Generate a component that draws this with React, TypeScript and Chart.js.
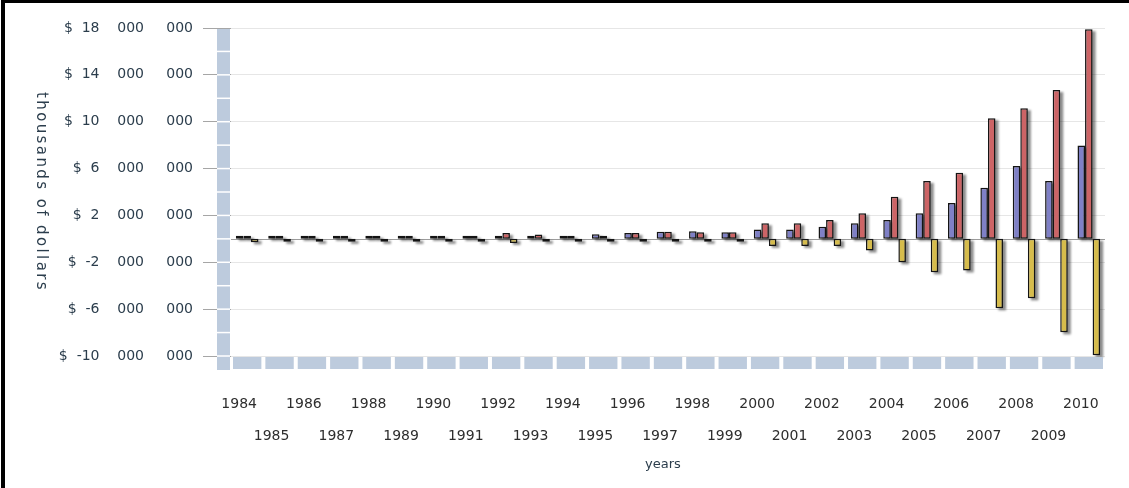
import React, { useEffect, useRef } from 'react';
import { Chart, registerables } from 'chart.js';

Chart.register(...registerables);

const years = [
  '1984', '1985', '1986', '1987', '1988', '1989', '1990', '1991', '1992', '1993',
  '1994', '1995', '1996', '1997', '1998', '1999', '2000', '2001', '2002', '2003',
  '2004', '2005', '2006', '2007', '2008', '2009', '2010',
];

// thousands of dollars
const blueSeries = [
  100000, 80000, 80000, 50000, 80000, 80000, 20000, 20000, 100000, 100000,
  250000, 400000, 500000, 600000, 650000, 560000, 790000, 790000, 1040000, 1330000,
  1610000, 2180000, 3070000, 4370000, 6220000, 4940000, 7960000,
];

const redSeries = [
  150000, 100000, 100000, 50000, 100000, 100000, 20000, 20000, 500000, 380000,
  250000, 120000, 500000, 600000, 560000, 560000, 1330000, 1330000, 1610000, 2180000,
  3600000, 4940000, 5650000, 10300000, 11150000, 12700000, 17900000,
];

const yellowSeries = [
  -300000, -150000, -150000, -150000, -150000, -150000, -20000, -20000, -350000, -180000,
  -120000, -100000, -60000, -100000, -100000, -100000, -600000, -600000, -600000, -1000000,
  -2000000, -2850000, -2700000, -5930000, -5080000, -7980000, -9940000,
];

const yMin = -10000000;
const yMax = 18000000;
const yStep = 4000000;

const yTitle = 'thousands of dollars';
const xTitle = 'years';

const BAND = '#bdcbdd';
const TEXT = '#2b3d4c';

function fmt(v: number): string {
  const s = Math.abs(Math.round(v)).toString();
  const groups: string[] = [];
  for (let i = s.length; i > 0; i -= 3) groups.unshift(s.slice(Math.max(0, i - 3), i));
  let out = '$  ' + (v < 0 ? '-' : '') + groups[0];
  for (let i = 1; i < groups.length; i++) out += (i === 1 ? '    ' : '     ') + groups[i];
  return out;
}

const decor = {
  id: 'decor',
  beforeDatasetsDraw(chart: any) {
    const { ctx, chartArea: a, scales } = chart;
    const y = scales.y;
    const y0 = Math.round(y.getPixelForValue(0)) + 0.5;
    ctx.save();
    ctx.strokeStyle = '#9c9c9c';
    ctx.lineWidth = 1;
    ctx.beginPath();
    ctx.moveTo(a.left, y0);
    ctx.lineTo(a.right, y0);
    ctx.stroke();
    // drop shadows under bars
    ctx.fillStyle = 'rgba(0,0,0,0.45)';
    ctx.filter = 'blur(1.2px)';
    chart.data.datasets.forEach((_ds: any, i: number) => {
      const meta = chart.getDatasetMeta(i);
      meta.data.forEach((el: any) => {
        const p = el.getProps(['x', 'y', 'base', 'width'], true);
        const top = Math.min(p.y, p.base);
        const bottom = Math.max(p.y, p.base);
        ctx.fillRect(p.x - p.width / 2 + 3, top + 2, p.width, bottom - top);
      });
    });
    ctx.restore();
  },
  afterDraw(chart: any) {
    const { ctx, chartArea: a, scales } = chart;
    const x = scales.x;
    const y = scales.y;
    ctx.save();
    // left wall band
    const bx = a.left - 14;
    const bw = 13;
    ctx.fillStyle = BAND;
    ctx.fillRect(bx, a.top + 1, bw, a.bottom - a.top + 13);
    ctx.fillStyle = '#ffffff';
    const ticks = y.ticks.map((t: any) => t.value);
    const divs: number[] = [];
    for (let i = 0; i < ticks.length; i++) {
      divs.push(ticks[i]);
      if (i + 1 < ticks.length) divs.push((ticks[i] + ticks[i + 1]) / 2);
    }
    divs.forEach((v) => {
      if (v === yMax) return;
      const py = y.getPixelForValue(v);
      ctx.fillRect(bx, py - 0.75, bw, 1.5);
    });
    // floor band
    ctx.fillStyle = BAND;
    const cw = (a.right - a.left) / years.length;
    years.forEach((_l, i) => {
      const cx = x.getPixelForValue(i);
      ctx.fillRect(cx - cw / 2 + 2, a.bottom + 1, cw - 4, 12);
    });
    // axis titles
    ctx.fillStyle = TEXT;
    ctx.font = '15px "DejaVu Sans"';
    ctx.textAlign = 'center';
    ctx.textBaseline = 'middle';
    ctx.save();
    ctx.translate(41, (a.top + a.bottom) / 2);
    ctx.rotate(Math.PI / 2);
    (ctx as any).letterSpacing = '2.4px';
    ctx.fillText(yTitle, 0, 0);
    ctx.restore();
    ctx.font = '13px "DejaVu Sans"';
    ctx.fillText(xTitle, (a.left + a.right) / 2 - 5, 465);
    ctx.restore();
  },
};

export default function App() {
  const ref = useRef<HTMLCanvasElement | null>(null);

  useEffect(() => {
    if (!ref.current) return;
    const chart = new Chart(ref.current, {
      type: 'bar',
      data: {
        labels: years,
        datasets: [
          { data: blueSeries, backgroundColor: '#7f80c6' },
          { data: redSeries, backgroundColor: '#cc6466' },
          { data: yellowSeries, backgroundColor: '#d6bc4c' },
        ].map((d) => ({
          ...d,
          borderColor: '#141414',
          borderWidth: 1.5,
          borderSkipped: false,
          minBarLength: 3,
          categoryPercentage: 0.7,
          barPercentage: 1.0,
        })),
      },
      options: {
        responsive: false,
        animation: false,
        devicePixelRatio: 1,
        layout: { padding: { left: 0, top: 28, right: 24, bottom: 0 } },
        plugins: { legend: { display: false }, tooltip: { enabled: false } },
        scales: {
          x: {
            grid: { display: false, drawTicks: false },
            border: { display: false },
            ticks: {
              autoSkip: false,
              maxRotation: 0,
              minRotation: 0,
              padding: 0,
              labelOffset: -8,
              color: '#2e2e2e',
              font: { family: 'DejaVu Sans', size: 14, lineHeight: '32px' },
              callback: (_v: any, i: number) => (i % 2 === 0 ? ['', years[i]] : ['', '', years[i]]),
            },
            afterFit: (s: any) => {
              s.height = 132;
            },
          },
          y: {
            min: yMin,
            max: yMax,
            ticks: {
              stepSize: yStep,
              padding: 10,
              color: TEXT,
              font: { family: 'DejaVu Sans', size: 14 },
              callback: (v: any) => fmt(Number(v)),
            },
            grid: { color: '#e6e6e6', tickColor: '#a6a6a6', tickLength: 28, lineWidth: 1 },
            border: { display: false },
            afterFit: (s: any) => {
              s.width = 231;
            },
          },
        },
      } as any,
      plugins: [decor],
    });
    return () => chart.destroy();
  }, []);

  return (
    <div style={{ position: 'fixed', left: 0, top: 0, width: 1129, height: 488, background: '#fff' }}>
      <canvas ref={ref} width={1129} height={488} style={{ position: 'absolute', left: 0, top: 0, width: 1129, height: 488 }} />
      <div
        style={{
          position: 'absolute',
          left: 1,
          top: 0,
          width: 1128,
          height: 488,
          boxSizing: 'border-box',
          borderTop: '3px solid #000',
          borderLeft: '4px solid #000',
          pointerEvents: 'none',
        }}
      />
    </div>
  );
}
